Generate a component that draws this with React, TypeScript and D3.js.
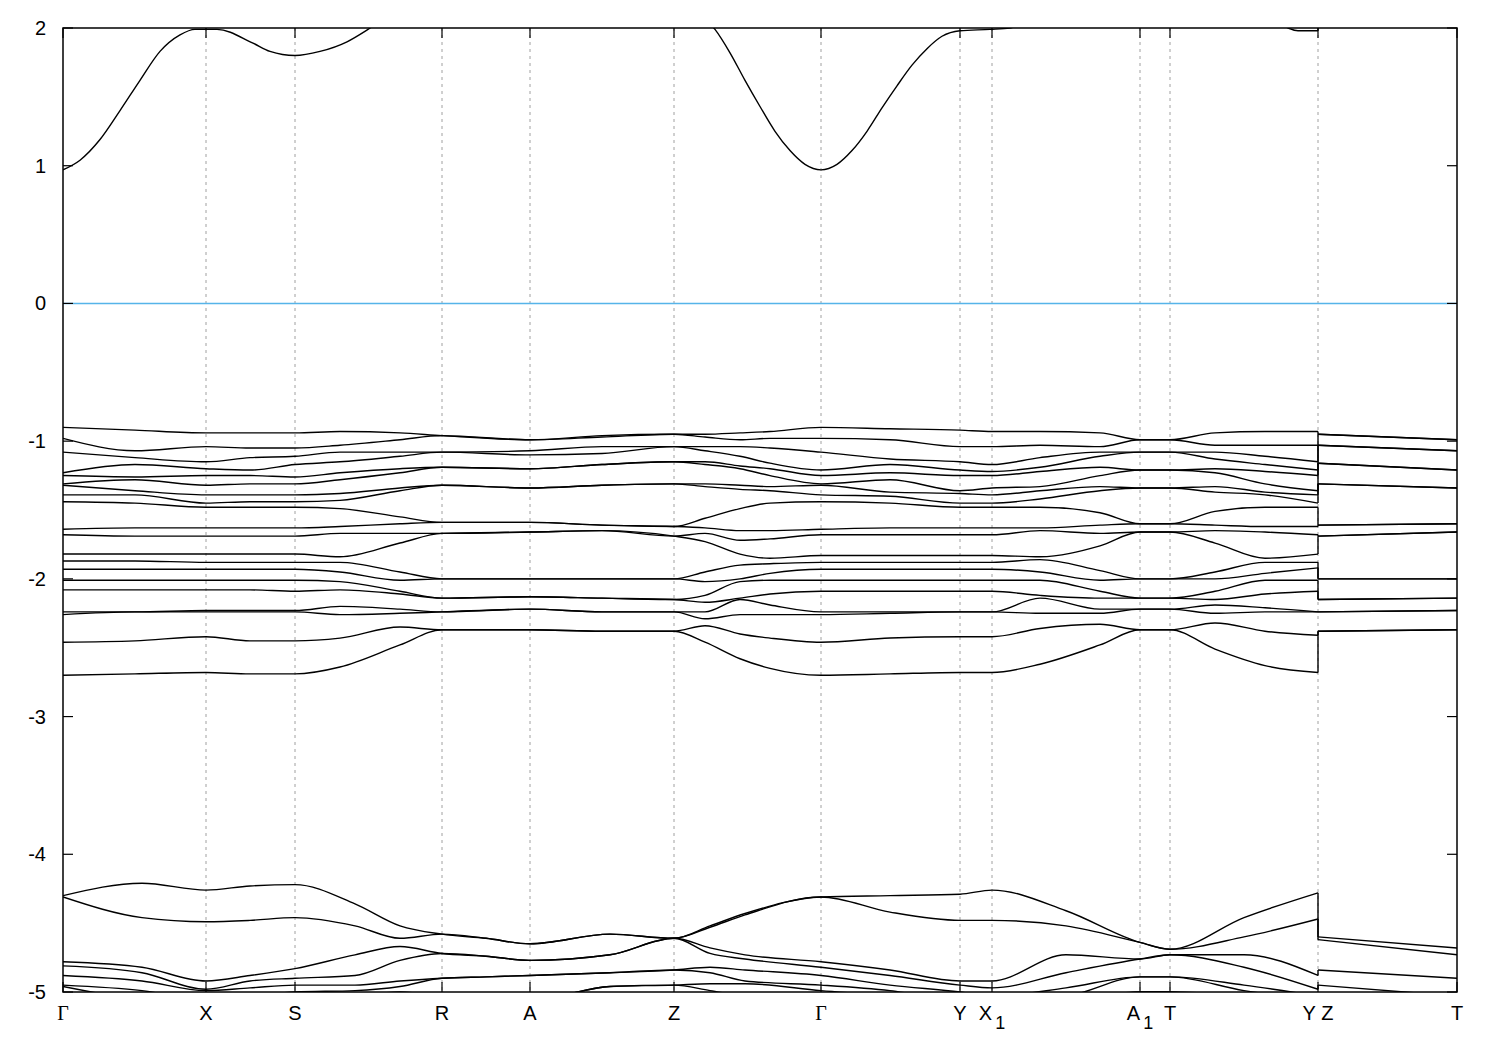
import React from 'react';
import * as d3 from 'd3';

// High-symmetry points along the k-path
const kNodePos = [0, 1.43, 2.32, 3.79, 4.67, 6.11, 7.58, 8.97, 9.29, 10.77, 11.07, 12.55, 13.94];
const kNodeName = ['Γ', 'X', 'S', 'R', 'A', 'Z', 'Γ', 'Y', 'X', 'A', 'T', 'Y Z', 'T'];
const kNodeSub = ['', '', '', '', '', '', '', '', '1', '1', '', '', ''];
const energyTicks = [-5, -4, -3, -2, -1, 0, 1, 2];

// Conduction band (eV)
const condK = [0, 0.17, 0.37, 0.57, 0.77, 0.97, 1.17, 1.32, 1.54, 1.9, 2.07, 2.32, 2.57, 2.84, 3.05, 3.37, 3.79, 4.67, 6.11, 6.37, 6.52, 6.67, 6.82, 6.97, 7.12, 7.27, 7.42, 7.58, 7.74, 7.89, 8.04, 8.19, 8.34, 8.49, 8.64, 8.79, 8.97, 9.27, 9.47, 9.77, 10.77, 11.07, 12.07, 12.25, 12.35, 12.55, 12.55, 13.94];
const condE = [0.97, 1.04, 1.19, 1.4, 1.62, 1.83, 1.95, 1.99, 1.99, 1.89, 1.83, 1.8, 1.83, 1.9, 1.99, 2.15, 2.3, 2.4, 2.3, 2.1, 1.99, 1.82, 1.62, 1.43, 1.25, 1.11, 1.01, 0.97, 1.01, 1.11, 1.25, 1.42, 1.58, 1.73, 1.85, 1.94, 1.98, 1.99, 2.0, 2.12, 2.3, 2.3, 2.08, 2.0, 1.98, 1.98, 2.3, 2.3];

// Upper valence manifold: eigenvalues (eV) at each sampled k
const upperK = [0, 0.72, 1.43, 1.87, 2.32, 2.77, 3.37, 3.79, 4.67, 5.39, 6.11, 6.42, 6.77, 7.07, 7.58, 8.27, 8.97, 9.29, 9.77, 10.37, 10.77, 11.07, 11.52, 12.02, 12.55, 12.55, 13.94];
const upperCols = [
  [-0.90, -0.98, -1.08, -1.23, -1.25, -1.31, -1.32, -1.39, -1.44, -1.64, -1.68, -1.82, -1.87, -1.93, -2.01, -2.08, -2.24, -2.26, -2.46, -2.70],
  [-0.92, -1.07, -1.12, -1.17, -1.26, -1.28, -1.36, -1.39, -1.45, -1.63, -1.69, -1.82, -1.87, -1.93, -2.01, -2.08, -2.24, -2.24, -2.45, -2.69],
  [-0.94, -1.04, -1.15, -1.20, -1.25, -1.32, -1.39, -1.45, -1.48, -1.63, -1.69, -1.82, -1.88, -1.93, -2.01, -2.08, -2.23, -2.24, -2.42, -2.68],
  [-0.94, -1.05, -1.12, -1.21, -1.25, -1.31, -1.39, -1.44, -1.48, -1.63, -1.69, -1.82, -1.88, -1.93, -2.01, -2.08, -2.23, -2.24, -2.45, -2.69],
  [-0.94, -1.05, -1.11, -1.17, -1.26, -1.31, -1.39, -1.44, -1.48, -1.63, -1.69, -1.82, -1.88, -1.93, -2.01, -2.09, -2.23, -2.24, -2.45, -2.69],
  [-0.93, -1.03, -1.08, -1.15, -1.23, -1.28, -1.38, -1.43, -1.49, -1.62, -1.67, -1.84, -1.88, -1.95, -2.02, -2.08, -2.20, -2.26, -2.43, -2.64],
  [-0.94, -0.99, -1.08, -1.11, -1.20, -1.23, -1.34, -1.36, -1.55, -1.60, -1.67, -1.74, -1.95, -2.01, -2.09, -2.11, -2.22, -2.25, -2.35, -2.48],
  [-0.96, -0.96, -1.08, -1.08, -1.19, -1.19, -1.32, -1.32, -1.59, -1.59, -1.67, -1.67, -2.00, -2.00, -2.14, -2.14, -2.24, -2.24, -2.37, -2.37],
  [-0.99, -0.99, -1.07, -1.10, -1.20, -1.20, -1.34, -1.34, -1.59, -1.59, -1.66, -1.66, -2.00, -2.00, -2.13, -2.13, -2.22, -2.22, -2.37, -2.37],
  [-0.96, -0.97, -1.04, -1.09, -1.17, -1.17, -1.32, -1.32, -1.61, -1.61, -1.65, -1.65, -2.00, -2.00, -2.14, -2.14, -2.24, -2.24, -2.38, -2.38],
  [-0.95, -0.95, -1.04, -1.04, -1.15, -1.15, -1.31, -1.31, -1.62, -1.62, -1.69, -1.69, -2.00, -2.00, -2.15, -2.15, -2.24, -2.24, -2.38, -2.38],
  [-0.95, -0.97, -1.04, -1.07, -1.15, -1.17, -1.31, -1.33, -1.56, -1.63, -1.67, -1.73, -1.95, -2.02, -2.12, -2.17, -2.24, -2.29, -2.34, -2.46],
  [-0.94, -0.99, -1.04, -1.11, -1.18, -1.20, -1.32, -1.35, -1.49, -1.65, -1.72, -1.82, -1.90, -2.00, -2.02, -2.14, -2.15, -2.26, -2.40, -2.58],
  [-0.93, -0.98, -1.05, -1.16, -1.20, -1.25, -1.33, -1.36, -1.45, -1.65, -1.71, -1.85, -1.89, -1.96, -2.01, -2.11, -2.19, -2.26, -2.43, -2.65],
  [-0.90, -0.98, -1.08, -1.21, -1.25, -1.31, -1.32, -1.39, -1.44, -1.64, -1.68, -1.83, -1.88, -1.93, -2.01, -2.09, -2.24, -2.26, -2.46, -2.70],
  [-0.91, -0.99, -1.13, -1.17, -1.23, -1.28, -1.37, -1.40, -1.45, -1.63, -1.68, -1.83, -1.88, -1.93, -2.01, -2.09, -2.24, -2.25, -2.43, -2.69],
  [-0.92, -1.04, -1.15, -1.21, -1.25, -1.36, -1.38, -1.45, -1.48, -1.63, -1.68, -1.83, -1.88, -1.93, -2.01, -2.09, -2.24, -2.24, -2.42, -2.68],
  [-0.93, -1.04, -1.17, -1.22, -1.25, -1.34, -1.39, -1.45, -1.48, -1.63, -1.68, -1.83, -1.88, -1.93, -2.01, -2.09, -2.24, -2.24, -2.42, -2.68],
  [-0.93, -1.03, -1.12, -1.19, -1.22, -1.33, -1.36, -1.42, -1.48, -1.63, -1.65, -1.84, -1.86, -1.95, -2.01, -2.12, -2.14, -2.25, -2.36, -2.62],
  [-0.94, -1.04, -1.08, -1.11, -1.19, -1.25, -1.33, -1.36, -1.52, -1.61, -1.67, -1.76, -1.94, -2.01, -2.09, -2.14, -2.22, -2.25, -2.33, -2.48],
  [-0.99, -0.99, -1.08, -1.08, -1.21, -1.21, -1.34, -1.34, -1.60, -1.60, -1.66, -1.66, -2.00, -2.00, -2.14, -2.14, -2.22, -2.22, -2.37, -2.37],
  [-0.99, -0.99, -1.08, -1.08, -1.21, -1.21, -1.34, -1.34, -1.60, -1.60, -1.66, -1.66, -2.00, -2.00, -2.14, -2.14, -2.22, -2.22, -2.37, -2.37],
  [-0.94, -1.03, -1.08, -1.13, -1.20, -1.23, -1.33, -1.37, -1.51, -1.61, -1.65, -1.74, -1.95, -2.00, -2.09, -2.15, -2.19, -2.25, -2.32, -2.51],
  [-0.93, -1.03, -1.11, -1.17, -1.22, -1.31, -1.37, -1.39, -1.48, -1.62, -1.66, -1.85, -1.88, -1.96, -2.01, -2.11, -2.21, -2.24, -2.38, -2.63],
  [-0.93, -1.03, -1.15, -1.21, -1.25, -1.36, -1.39, -1.45, -1.48, -1.62, -1.68, -1.82, -1.88, -1.92, -2.01, -2.09, -2.24, -2.24, -2.41, -2.68],
  [-0.95, -0.95, -1.03, -1.03, -1.16, -1.16, -1.31, -1.31, -1.61, -1.61, -1.69, -1.69, -2.00, -2.00, -2.15, -2.15, -2.24, -2.24, -2.38, -2.38],
  [-0.99, -0.99, -1.07, -1.07, -1.21, -1.21, -1.34, -1.34, -1.60, -1.60, -1.66, -1.66, -2.00, -2.00, -2.14, -2.14, -2.23, -2.23, -2.37, -2.37],
];

// Lower valence manifold
const lowerK = [0, 0.79, 1.43, 1.87, 2.32, 2.92, 3.37, 3.79, 4.23, 4.67, 5.47, 6.11, 6.47, 6.82, 7.58, 8.27, 8.97, 9.29, 10.03, 10.77, 11.07, 11.81, 12.55, 12.55, 13.94];
const lowerCols = [
  [-4.30, -4.31, -4.78, -4.81, -4.88, -4.95, -4.96, -5.06],
  [-4.21, -4.46, -4.82, -4.86, -4.92, -4.99, -5.06, -5.13],
  [-4.26, -4.49, -4.92, -4.98, -4.99, -5.06, -5.10, -5.13],
  [-4.23, -4.48, -4.88, -4.92, -4.97, -5.03, -5.10, -5.13],
  [-4.22, -4.46, -4.83, -4.90, -4.95, -5.00, -5.06, -5.13],
  [-4.36, -4.52, -4.73, -4.88, -4.95, -4.99, -5.03, -5.10],
  [-4.52, -4.61, -4.67, -4.77, -4.92, -4.96, -5.00, -5.06],
  [-4.58, -4.58, -4.72, -4.72, -4.90, -4.90, -5.03, -5.03],
  [-4.61, -4.61, -4.74, -4.74, -4.89, -4.89, -5.05, -5.05],
  [-4.65, -4.65, -4.77, -4.77, -4.88, -4.88, -5.06, -5.06],
  [-4.58, -4.58, -4.73, -4.73, -4.86, -4.86, -4.96, -4.96],
  [-4.61, -4.61, -4.61, -4.61, -4.84, -4.84, -4.95, -4.95],
  [-4.52, -4.53, -4.68, -4.72, -4.82, -4.86, -4.94, -4.99],
  [-4.43, -4.44, -4.73, -4.76, -4.84, -4.92, -4.94, -5.03],
  [-4.31, -4.31, -4.78, -4.82, -4.88, -4.95, -4.99, -5.06],
  [-4.30, -4.42, -4.84, -4.88, -4.95, -4.99, -5.03, -5.10],
  [-4.29, -4.48, -4.92, -4.95, -5.00, -5.06, -5.10, -5.13],
  [-4.26, -4.48, -4.92, -4.97, -5.03, -5.06, -5.10, -5.13],
  [-4.41, -4.52, -4.73, -4.86, -4.97, -5.03, -5.06, -5.10],
  [-4.64, -4.64, -4.76, -4.76, -4.89, -4.89, -5.00, -5.00],
  [-4.69, -4.69, -4.73, -4.73, -4.89, -4.89, -5.00, -5.00],
  [-4.46, -4.60, -4.73, -4.82, -4.95, -4.99, -5.03, -5.10],
  [-4.28, -4.47, -4.88, -4.98, -5.03, -5.06, -5.10, -5.13],
  [-4.60, -4.62, -4.84, -4.95, -5.03, -5.06, -5.10, -5.13],
  [-4.68, -4.73, -4.90, -5.03, -5.06, -5.10, -5.13, -5.17],
];

const W = 1500;
const H = 1050;
const M = { left: 63, right: 43, top: 28, bottom: 58 };

type Pt = [number, number];

function buildBands(ks: number[], cols: number[][]): Pt[][] {
  const sorted = cols.map((c) => [...c].sort((a, b) => b - a));
  const n = d3.min(sorted, (c) => c.length) as number;
  const bands: Pt[][] = [];
  for (let i = 0; i < n; i++) bands.push(ks.map((k, j) => [k, sorted[j][i]] as Pt));
  return bands;
}

function splitAtJump(pts: Pt[]): Pt[][] {
  const segs: Pt[][] = [[pts[0]]];
  for (let j = 1; j < pts.length; j++) {
    if (pts[j][0] === pts[j - 1][0]) segs.push([pts[j]]);
    else segs[segs.length - 1].push(pts[j]);
  }
  return segs;
}

export default function App() {
  const x = d3.scaleLinear().domain([kNodePos[0], kNodePos[kNodePos.length - 1]]).range([M.left, W - M.right]);
  const y = d3.scaleLinear().domain([-5, 2]).range([H - M.bottom, M.top]);
  const line = d3
    .line<Pt>()
    .x((d) => x(d[0]))
    .y((d) => y(d[1]))
    .curve(d3.curveMonotoneX);

  const condBand: Pt[] = condK.map((k, i) => [k, condE[i]] as Pt);
  const allBands: Pt[][] = [condBand, ...buildBands(upperK, upperCols), ...buildBands(lowerK, lowerCols)];

  const paths: string[] = [];
  const jumps: [Pt, Pt][] = [];
  allBands.forEach((b) => {
    const segs = splitAtJump(b);
    segs.forEach((s, si) => {
      paths.push(line(s) as string);
      if (si > 0) jumps.push([segs[si - 1][segs[si - 1].length - 1], s[0]]);
    });
  });

  const x0 = M.left;
  const x1 = W - M.right;
  const y0 = M.top;
  const y1 = H - M.bottom;
  const font = '"Liberation Sans", Arial, Helvetica, sans-serif';

  return (
    <svg
      width={W}
      height={H}
      style={{ position: 'absolute', left: 0, top: 0, background: '#fff' }}
      fontFamily={font}
    >
      <defs>
        <clipPath id="plotClip">
          <rect x={x0} y={y0} width={x1 - x0} height={y1 - y0} />
        </clipPath>
      </defs>
      <rect x={0} y={0} width={W} height={H} fill="#fff" />

      {kNodePos.slice(1, -1).map((k, i) => (
        <line
          key={'g' + i}
          x1={x(k)}
          x2={x(k)}
          y1={y0}
          y2={y1}
          stroke="#a0a0a0"
          strokeWidth={1}
          strokeDasharray="3,4"
        />
      ))}

      <line x1={x0} x2={x1} y1={y(0)} y2={y(0)} stroke="#56b4e9" strokeWidth={1.5} />

      <g clipPath="url(#plotClip)" fill="none" stroke="#000" strokeWidth={1.4}>
        {paths.map((d, i) => (
          <path key={'b' + i} d={d} />
        ))}
        {jumps.map(([a, b], i) => (
          <line key={'j' + i} x1={x(a[0])} x2={x(b[0])} y1={y(a[1])} y2={y(b[1])} />
        ))}
      </g>

      <g stroke="#000" strokeWidth={1.2}>
        {kNodePos.map((k, i) => (
          <g key={'xt' + i}>
            <line x1={x(k)} x2={x(k)} y1={y1} y2={y1 - 10} />
            <line x1={x(k)} x2={x(k)} y1={y0} y2={y0 + 10} />
          </g>
        ))}
        {energyTicks.map((e, i) => (
          <g key={'yt' + i}>
            <line x1={x0} x2={x0 + 10} y1={y(e)} y2={y(e)} />
            <line x1={x1} x2={x1 - 10} y1={y(e)} y2={y(e)} />
          </g>
        ))}
      </g>

      <rect x={x0} y={y0} width={x1 - x0} height={y1 - y0} fill="none" stroke="#000" strokeWidth={1.5} />

      {energyTicks.map((e, i) => (
        <text key={'yl' + i} x={46} y={y(e)} dy="0.35em" textAnchor="end" fontSize={20} fill="#000">
          {String(e)}
        </text>
      ))}

      {kNodePos.map((k, i) => (
        <text
          key={'xl' + i}
          x={x(k)}
          y={1020}
          textAnchor="middle"
          fontSize={20}
          fill="#000"
          fontFamily={kNodeName[i] === 'Γ' ? '"Liberation Serif", "Times New Roman", serif' : font}
        >
          {kNodeName[i]}
          {kNodeSub[i] ? (
            <tspan dx={3} dy={9} fontSize={18}>
              {kNodeSub[i]}
            </tspan>
          ) : null}
        </text>
      ))}
    </svg>
  );
}
